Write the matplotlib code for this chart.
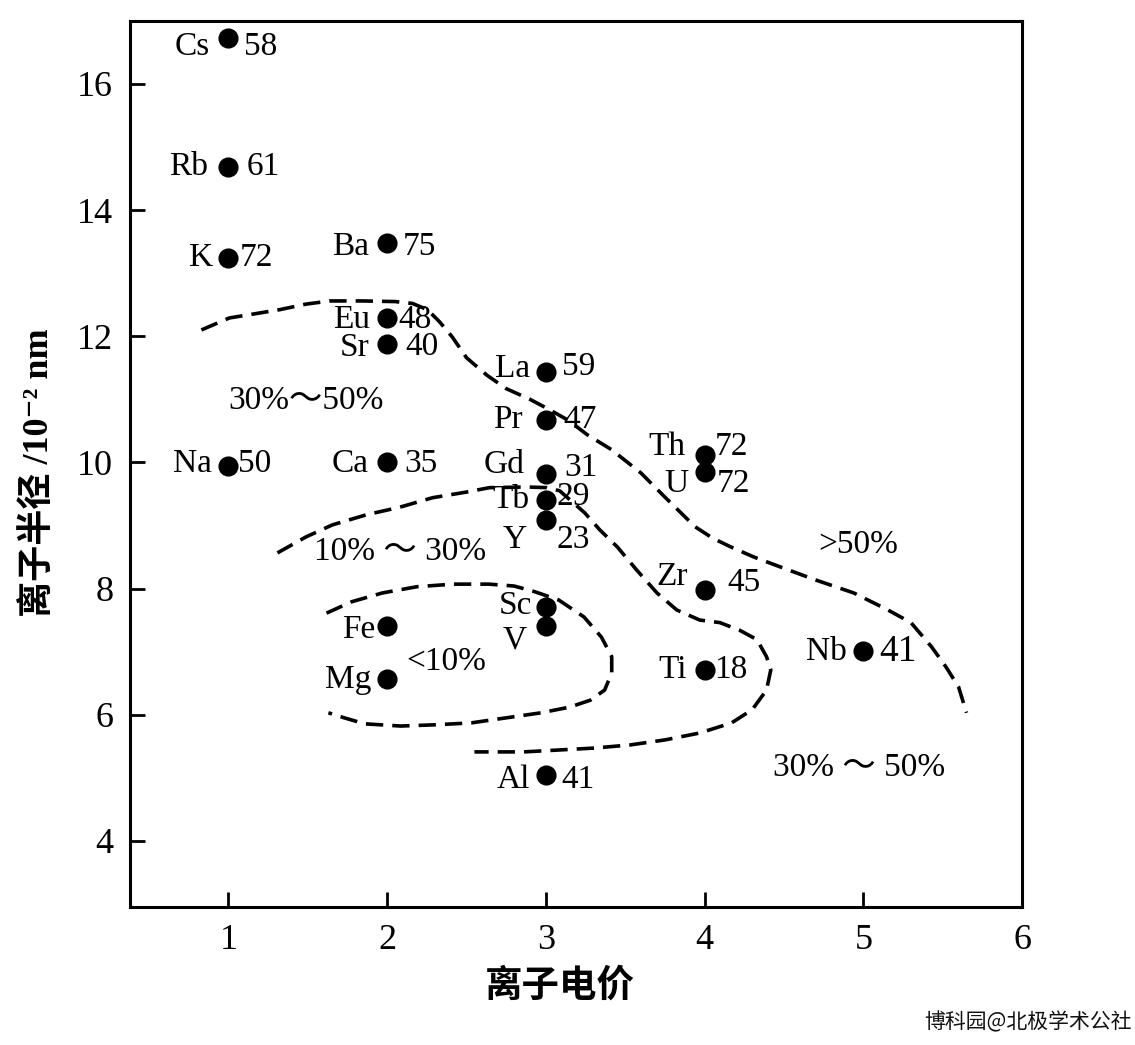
import matplotlib
matplotlib.use("Agg")
import matplotlib.pyplot as plt
import numpy as np

# ---------------- data ----------------
elements = ["Cs", "Rb", "K", "Ba", "Eu", "Sr", "La", "Pr", "Na", "Ca", "Gd", "Tb", "Y",
            "Th", "U", "Zr", "Sc", "V", "Fe", "Mg", "Ti", "Nb", "Al"]
charge = [1, 1, 1, 2, 2, 2, 3, 3, 1, 2, 3, 3, 3,
          4, 4, 4, 3, 3, 2, 2, 4, 5, 3]
radius = [16.73, 14.68, 13.24, 13.48, 12.29, 11.88, 11.44, 10.68, 9.95, 10.0, 9.82, 9.41, 9.09,
          10.12, 9.85, 7.97, 7.71, 7.41, 7.41, 6.57, 6.71, 7.01, 5.05]
values = ["58", "61", "72", "75", "48", "40", "59", "47", "50", "35", "31", "29", "23",
          "72", "72", "45", None, None, None, None, "18", "41", "41"]

# dashed boundary curves (ionic charge, radius)
curveA_x = [0.83, 1.006, 1.32, 1.49, 1.64, 1.845, 2.05, 2.16, 2.255, 2.33, 2.41, 2.50, 2.63, 2.75,
            2.90, 3.005, 3.14, 3.26, 3.415, 3.60, 3.75, 3.94, 4.05, 4.165, 4.31, 4.48, 4.695,
            4.94, 5.155, 5.30, 5.43, 5.52, 5.60, 5.65]
curveA_y = [12.10, 12.29, 12.42, 12.51, 12.56, 12.56, 12.55, 12.52, 12.42, 12.23, 11.99, 11.66,
            11.38, 11.17, 11.00, 10.86, 10.67, 10.44, 10.20, 9.83, 9.45, 8.98, 8.80, 8.66, 8.50,
            8.34, 8.14, 7.93, 7.66, 7.46, 7.075, 6.76, 6.44, 6.03]
curveB_x = [1.309, 1.49, 1.656, 1.87, 2.08, 2.286, 2.50, 2.646, 2.88, 3.005, 3.087, 3.245, 3.34,
            3.45, 3.57, 3.70, 3.825, 3.97, 4.096, 4.22, 4.33, 4.39, 4.417, 4.39, 4.30, 4.17,
            3.97, 3.75, 3.53, 3.30, 3.08, 2.86, 2.55]
curveB_y = [8.565, 8.82, 9.01, 9.17, 9.29, 9.44, 9.53, 9.60, 9.61, 9.60, 9.55, 9.20, 8.93, 8.66,
            8.30, 7.93, 7.66, 7.50, 7.46, 7.34, 7.19, 6.92, 6.71, 6.39, 6.08, 5.87, 5.71, 5.60,
            5.52, 5.47, 5.44, 5.41, 5.41]
curveC_x = [1.618, 1.776, 1.97, 2.19, 2.42, 2.64, 2.80, 2.93, 3.08, 3.24, 3.35, 3.415, 3.415,
            3.37, 3.28, 3.15, 2.97, 2.75, 2.53, 2.305, 2.085, 1.86, 1.73, 1.63]
curveC_y = [7.61, 7.79, 7.93, 8.03, 8.07, 8.07, 8.04, 7.95, 7.82, 7.55, 7.23, 6.92, 6.66, 6.39,
            6.23, 6.12, 6.03, 5.95, 5.87, 5.84, 5.82, 5.855, 5.95, 6.03]

region_labels = ["30%～50%", "10% ～ 30%", "<10%", ">50%", "30% ～ 50%"]
region_x = [1.49, 2.08, 2.37, 4.97, 4.97]
region_y = [10.98, 8.58, 6.84, 8.69, 5.16]

x_ticks = [1, 2, 3, 4, 5, 6]
y_ticks = [4, 6, 8, 10, 12, 14, 16]

# label offsets in pixels (layout only)
name_off = {"Cs": (-19, -9), "Rb": (-20, 0), "K": (-15, 0), "Ba": (-18, -4), "Eu": (-17, -2),
            "Sr": (-18, -4), "La": (-16, 3), "Pr": (-23, 0), "Na": (-17, 2), "Ca": (-18, -1),
            "Gd": (-21, 9), "Tb": (-16, 0), "Y": (-19, -20), "Th": (-19, 8), "U": (-16, -12),
            "Zr": (-17, 14), "Sc": (-14, 1), "V": (-19, -14), "Fe": (-12, -4), "Mg": (-16, -1),
            "Ti": (-18, 0), "Nb": (-16, -1), "Al": (-16, -5)}
val_off = {"Cs": (16, -9), "Rb": (18, 0), "K": (11, 0), "Ba": (16, -4), "Eu": (11, -2),
           "Sr": (18, -3), "La": (16, 5), "Pr": (18, 0), "Na": (10, 2), "Ca": (17, -1),
           "Gd": (18, 6), "Tb": (11, 3), "Y": (11, -20), "Th": (10, 8), "U": (12, -12),
           "Zr": (23, 8), "Ti": (10, 0), "Nb": (16, -1), "Al": (16, -5)}

SERIF = ["Liberation Serif", "Noto Sans CJK SC", "DejaVu Serif"]
plt.rcParams["font.family"] = SERIF

fig = plt.figure(figsize=(11.35, 10.45), dpi=100)
ax = fig.add_axes([0.1145, 0.132, 0.786, 0.848])

dash = (0, (4.8, 2.5))
for cx, cy in [(curveA_x, curveA_y), (curveB_x, curveB_y), (curveC_x, curveC_y)]:
    ax.plot(cx, cy, color="black", lw=2.6, linestyle=dash, dash_capstyle="butt",
            solid_joinstyle="round", dash_joinstyle="round")

ax.plot(charge, radius, "o", color="black", ms=13.5, zorder=3)

for el, x, y, v in zip(elements, charge, radius, values):
    fs = 24
    dx, dy = name_off[el]
    ax.annotate(el, (x, y), xytext=(dx, dy), textcoords="offset pixels",
                ha="right", va="center", fontsize=fs)
    if v is not None:
        dx, dy = val_off[el]
        ax.annotate(v, (x, y), xytext=(dx, dy), textcoords="offset pixels",
                    ha="left", va="center", fontsize=(27 if el == "Nb" else fs))

for t, x, y in zip(region_labels, region_x, region_y):
    ax.text(x, y, t, ha="center", va="center", fontsize=24)

ax.set_xlim(0.38, 6.0)
ax.set_ylim(2.95, 17.0)
ax.set_xticks(x_ticks)
ax.set_yticks(y_ticks)
ax.tick_params(direction="in", length=11, width=2.0, labelsize=26, pad=12)
ax.tick_params(axis="y", pad=12)
for s in ax.spines.values():
    s.set_linewidth(2.2)
    s.set_color("black")

ax.set_xlabel("离子电价", fontsize=27, fontweight="bold",
              family=["Noto Sans CJK SC"])
ax.xaxis.set_label_coords(0.482, -0.066)
ax.set_ylabel("离子半径 /10⁻² nm", fontsize=26, fontweight="bold",
              family=["Liberation Serif", "Noto Sans CJK SC", "DejaVu Serif"])
ax.yaxis.set_label_coords(-0.082, 0.49)

fig.text(0.997, 0.022, "博科园@北极学术公社", ha="right", va="center", fontsize=15,
         family=["Noto Sans CJK SC"], color="#111111")

fig.savefig("out.png", dpi=100, facecolor="white")
